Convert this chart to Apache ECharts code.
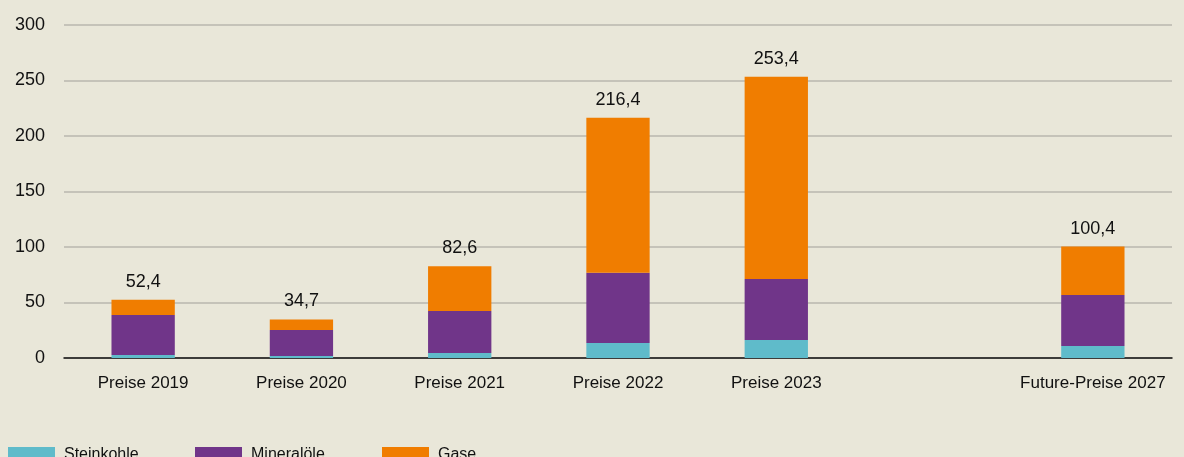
<!DOCTYPE html>
<html>
<head>
<meta charset="utf-8">
<script src="https://cdn.jsdelivr.net/npm/echarts@6/dist/echarts.min.js"></script>
<style>
  html, body { margin: 0; padding: 0; background: #e9e7d9; }
  #chart { width: 1184px; height: 457px; }
</style>
</head>
<body>
<div id="chart"></div>
<script>
// Kategorien (leere Kategorie = Lücke vor 2027)
var categories = ['Preise 2019', 'Preise 2020', 'Preise 2021', 'Preise 2022', 'Preise 2023', '', 'Future-Preise 2027'];
// Werte je Energieträger
var steinkohle = [2.7, 1.8, 4.5, 13.5, 16.2, null, 10.8];
var mineraloele = [36.0, 23.4, 37.8, 63.3, 54.9, null, 45.9];
var gase = [13.7, 9.5, 40.3, 139.6, 182.3, null, 43.7];
// Summen (Beschriftung)
var totals = ['52,4', '34,7', '82,6', '216,4', '253,4', '', '100,4'];
var yTicks = [0, 50, 100, 150, 200, 250, 300];

var fontName = '"Liberation Sans", Arial, sans-serif';
var colors = ['#5fbbca', '#703589', '#f07d00'];

var chart = echarts.init(document.getElementById('chart'));

function legendAt(name, left) {
    return {
        data: [name],
        left: left,
        top: 447,
        padding: 0,
        icon: 'rect',
        itemWidth: 47,
        itemHeight: 16,
        itemGap: 0,
        selectedMode: false,
        textStyle: { fontFamily: fontName, fontSize: 16, color: '#111', padding: [0, 0, 26, 4] }
    };
}

var option = {
    backgroundColor: '#e9e7d9',
    animation: false,
    color: colors,
    grid: { left: 64, right: 12, top: 25, bottom: 99 },
    legend: [
        legendAt('Steinkohle', 8),
        legendAt('Mineralöle', 195),
        legendAt('Gase', 382)
    ],
    xAxis: {
        type: 'category',
        data: categories,
        axisLine: { lineStyle: { color: '#111', width: 1.5 } },
        axisTick: { show: false },
        axisLabel: { fontFamily: fontName, fontSize: 17, color: '#111', margin: 17, interval: 0 }
    },
    yAxis: {
        type: 'value',
        min: yTicks[0],
        max: yTicks[yTicks.length - 1],
        interval: 50,
        axisLine: { show: false },
        axisTick: { show: false },
        axisLabel: { fontFamily: fontName, fontSize: 18, color: '#111', margin: 19 },
        splitLine: { lineStyle: { color: '#b9b7ae', width: 1.5 } }
    },
    series: [
        { name: 'Steinkohle', type: 'bar', stack: 'a', barWidth: '40%', data: steinkohle },
        { name: 'Mineralöle', type: 'bar', stack: 'a', barWidth: '40%', data: mineraloele },
        {
            name: 'Gase', type: 'bar', stack: 'a', barWidth: '40%', data: gase,
            label: {
                show: true,
                position: 'top',
                distance: 9,
                fontFamily: fontName,
                fontSize: 18,
                color: '#111',
                formatter: function (p) { return totals[p.dataIndex]; }
            }
        }
    ]
};

chart.setOption(option);
</script>
</body>
</html>
